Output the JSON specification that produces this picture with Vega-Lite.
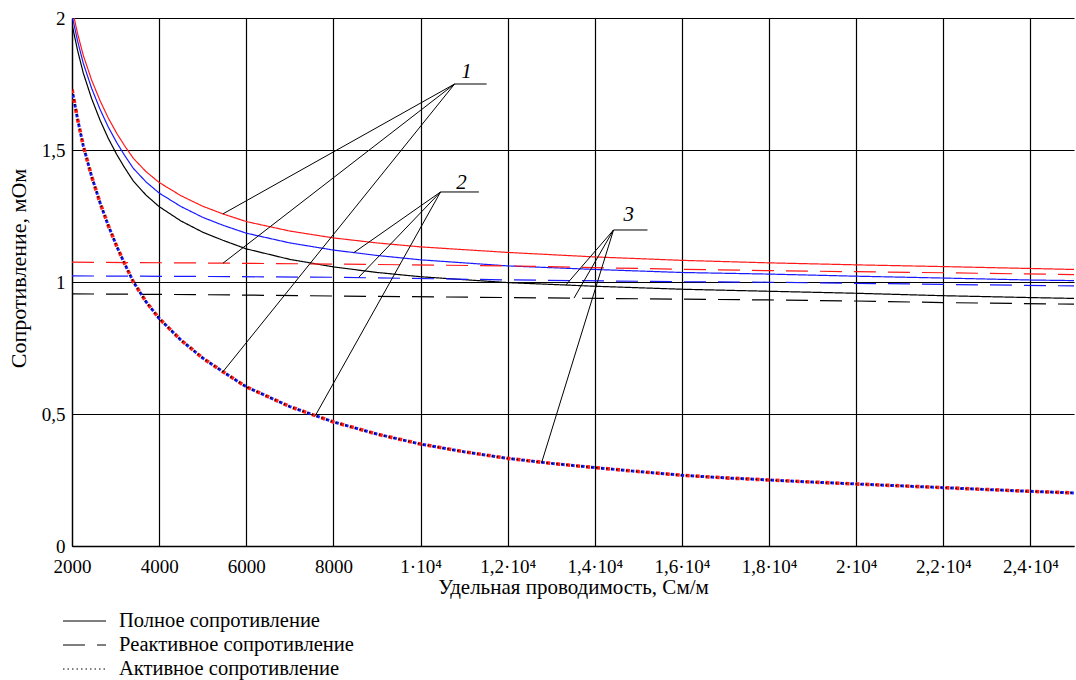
{
  "$schema": "https://vega.github.io/schema/vega-lite/v6.json",
  "width": 1002,
  "height": 528,
  "autosize": {"type": "none"},
  "padding": {"left": 72, "top": 18, "right": 2, "bottom": 134},
  "background": "white",
  "config": {
    "view": {"stroke": null},
    "font": "Liberation Serif",
    "axis": {
      "labelFont": "Liberation Serif", "labelFontSize": 19, "labelColor": "black",
      "titleFont": "Liberation Serif", "titleFontSize": 21, "titleFontWeight": "normal", "titleColor": "black",
      "domainColor": "black", "domainWidth": 1.3, "gridColor": "black", "gridWidth": 1.2, "gridOpacity": 1, "ticks": false
    }
  },
  "datasets": {
    "curves": [
      {"x": 2000, "v": 2.037, "c": "1", "t": "Полное сопротивление"},
      {"x": 2130, "v": 1.94, "c": "1", "t": "Полное сопротивление"},
      {"x": 2260, "v": 1.858, "c": "1", "t": "Полное сопротивление"},
      {"x": 2450, "v": 1.765, "c": "1", "t": "Полное сопротивление"},
      {"x": 2644, "v": 1.687, "c": "1", "t": "Полное сопротивление"},
      {"x": 2830, "v": 1.622, "c": "1", "t": "Полное сопротивление"},
      {"x": 3027, "v": 1.563, "c": "1", "t": "Полное сопротивление"},
      {"x": 3200, "v": 1.518, "c": "1", "t": "Полное сопротивление"},
      {"x": 3410, "v": 1.468, "c": "1", "t": "Полное сопротивление"},
      {"x": 3700, "v": 1.418, "c": "1", "t": "Полное сопротивление"},
      {"x": 4000, "v": 1.377, "c": "1", "t": "Полное сопротивление"},
      {"x": 4500, "v": 1.327, "c": "1", "t": "Полное сопротивление"},
      {"x": 5000, "v": 1.287, "c": "1", "t": "Полное сопротивление"},
      {"x": 5464, "v": 1.258, "c": "1", "t": "Полное сопротивление"},
      {"x": 6000, "v": 1.229, "c": "1", "t": "Полное сопротивление"},
      {"x": 7000, "v": 1.193, "c": "1", "t": "Полное сопротивление"},
      {"x": 8000, "v": 1.167, "c": "1", "t": "Полное сопротивление"},
      {"x": 9000, "v": 1.148, "c": "1", "t": "Полное сопротивление"},
      {"x": 10000, "v": 1.133, "c": "1", "t": "Полное сопротивление"},
      {"x": 12000, "v": 1.112, "c": "1", "t": "Полное сопротивление"},
      {"x": 14000, "v": 1.095, "c": "1", "t": "Полное сопротивление"},
      {"x": 16000, "v": 1.082, "c": "1", "t": "Полное сопротивление"},
      {"x": 18000, "v": 1.0725, "c": "1", "t": "Полное сопротивление"},
      {"x": 20000, "v": 1.065, "c": "1", "t": "Полное сопротивление"},
      {"x": 22000, "v": 1.0584, "c": "1", "t": "Полное сопротивление"},
      {"x": 24000, "v": 1.0512, "c": "1", "t": "Полное сопротивление"},
      {"x": 25000, "v": 1.0475, "c": "1", "t": "Полное сопротивление"},

      {"x": 2000, "v": 2.01, "c": "2", "t": "Полное сопротивление"},
      {"x": 2130, "v": 1.912, "c": "2", "t": "Полное сопротивление"},
      {"x": 2260, "v": 1.828, "c": "2", "t": "Полное сопротивление"},
      {"x": 2450, "v": 1.734, "c": "2", "t": "Полное сопротивление"},
      {"x": 2644, "v": 1.654, "c": "2", "t": "Полное сопротивление"},
      {"x": 2830, "v": 1.588, "c": "2", "t": "Полное сопротивление"},
      {"x": 3027, "v": 1.528, "c": "2", "t": "Полное сопротивление"},
      {"x": 3200, "v": 1.4815, "c": "2", "t": "Полное сопротивление"},
      {"x": 3410, "v": 1.43, "c": "2", "t": "Полное сопротивление"},
      {"x": 3700, "v": 1.379, "c": "2", "t": "Полное сопротивление"},
      {"x": 4000, "v": 1.337, "c": "2", "t": "Полное сопротивление"},
      {"x": 4500, "v": 1.286, "c": "2", "t": "Полное сопротивление"},
      {"x": 5000, "v": 1.245, "c": "2", "t": "Полное сопротивление"},
      {"x": 5464, "v": 1.215, "c": "2", "t": "Полное сопротивление"},
      {"x": 6000, "v": 1.185, "c": "2", "t": "Полное сопротивление"},
      {"x": 7000, "v": 1.148, "c": "2", "t": "Полное сопротивление"},
      {"x": 8000, "v": 1.121, "c": "2", "t": "Полное сопротивление"},
      {"x": 9000, "v": 1.1005, "c": "2", "t": "Полное сопротивление"},
      {"x": 10000, "v": 1.084, "c": "2", "t": "Полное сопротивление"},
      {"x": 12000, "v": 1.061, "c": "2", "t": "Полное сопротивление"},
      {"x": 14000, "v": 1.0475, "c": "2", "t": "Полное сопротивление"},
      {"x": 16000, "v": 1.036, "c": "2", "t": "Полное сопротивление"},
      {"x": 18000, "v": 1.03, "c": "2", "t": "Полное сопротивление"},
      {"x": 20000, "v": 1.022, "c": "2", "t": "Полное сопротивление"},
      {"x": 22000, "v": 1.015, "c": "2", "t": "Полное сопротивление"},
      {"x": 24000, "v": 1.0075, "c": "2", "t": "Полное сопротивление"},
      {"x": 25000, "v": 1.0053, "c": "2", "t": "Полное сопротивление"},

      {"x": 2000, "v": 1.976, "c": "3", "t": "Полное сопротивление"},
      {"x": 2130, "v": 1.876, "c": "3", "t": "Полное сопротивление"},
      {"x": 2260, "v": 1.791, "c": "3", "t": "Полное сопротивление"},
      {"x": 2450, "v": 1.695, "c": "3", "t": "Полное сопротивление"},
      {"x": 2644, "v": 1.613, "c": "3", "t": "Полное сопротивление"},
      {"x": 2830, "v": 1.545, "c": "3", "t": "Полное сопротивление"},
      {"x": 3027, "v": 1.483, "c": "3", "t": "Полное сопротивление"},
      {"x": 3200, "v": 1.435, "c": "3", "t": "Полное сопротивление"},
      {"x": 3410, "v": 1.382, "c": "3", "t": "Полное сопротивление"},
      {"x": 3700, "v": 1.329, "c": "3", "t": "Полное сопротивление"},
      {"x": 4000, "v": 1.2856, "c": "3", "t": "Полное сопротивление"},
      {"x": 4500, "v": 1.2313, "c": "3", "t": "Полное сопротивление"},
      {"x": 5000, "v": 1.1888, "c": "3", "t": "Полное сопротивление"},
      {"x": 5464, "v": 1.158, "c": "3", "t": "Полное сопротивление"},
      {"x": 6000, "v": 1.1255, "c": "3", "t": "Полное сопротивление"},
      {"x": 7000, "v": 1.0857, "c": "3", "t": "Полное сопротивление"},
      {"x": 8000, "v": 1.0572, "c": "3", "t": "Полное сопротивление"},
      {"x": 9000, "v": 1.0362, "c": "3", "t": "Полное сопротивление"},
      {"x": 10000, "v": 1.0199, "c": "3", "t": "Полное сопротивление"},
      {"x": 12000, "v": 0.9978, "c": "3", "t": "Полное сопротивление"},
      {"x": 14000, "v": 0.9839, "c": "3", "t": "Полное сопротивление"},
      {"x": 16000, "v": 0.9726, "c": "3", "t": "Полное сопротивление"},
      {"x": 18000, "v": 0.9649, "c": "3", "t": "Полное сопротивление"},
      {"x": 20000, "v": 0.9573, "c": "3", "t": "Полное сопротивление"},
      {"x": 22000, "v": 0.9481, "c": "3", "t": "Полное сопротивление"},
      {"x": 24000, "v": 0.941, "c": "3", "t": "Полное сопротивление"},
      {"x": 25000, "v": 0.9378, "c": "3", "t": "Полное сопротивление"},

      {"x": 2000, "v": 1.075, "c": "1", "t": "Реактивное сопротивление"},
      {"x": 5000, "v": 1.072, "c": "1", "t": "Реактивное сопротивление"},
      {"x": 8000, "v": 1.068, "c": "1", "t": "Реактивное сопротивление"},
      {"x": 12000, "v": 1.061, "c": "1", "t": "Реактивное сопротивление"},
      {"x": 16000, "v": 1.048, "c": "1", "t": "Реактивное сопротивление"},
      {"x": 18000, "v": 1.043, "c": "1", "t": "Реактивное сопротивление"},
      {"x": 20000, "v": 1.039, "c": "1", "t": "Реактивное сопротивление"},
      {"x": 22000, "v": 1.035, "c": "1", "t": "Реактивное сопротивление"},
      {"x": 25000, "v": 1.028, "c": "1", "t": "Реактивное сопротивление"},
      {"x": 2000, "v": 1.023, "c": "2", "t": "Реактивное сопротивление"},
      {"x": 5000, "v": 1.021, "c": "2", "t": "Реактивное сопротивление"},
      {"x": 8000, "v": 1.018, "c": "2", "t": "Реактивное сопротивление"},
      {"x": 12000, "v": 1.008, "c": "2", "t": "Реактивное сопротивление"},
      {"x": 16000, "v": 1.001, "c": "2", "t": "Реактивное сопротивление"},
      {"x": 18000, "v": 0.999, "c": "2", "t": "Реактивное сопротивление"},
      {"x": 20000, "v": 0.995, "c": "2", "t": "Реактивное сопротивление"},
      {"x": 22000, "v": 0.991, "c": "2", "t": "Реактивное сопротивление"},
      {"x": 25000, "v": 0.985, "c": "2", "t": "Реактивное сопротивление"},
      {"x": 2000, "v": 0.955, "c": "3", "t": "Реактивное сопротивление"},
      {"x": 5000, "v": 0.952, "c": "3", "t": "Реактивное сопротивление"},
      {"x": 8000, "v": 0.947, "c": "3", "t": "Реактивное сопротивление"},
      {"x": 12000, "v": 0.941, "c": "3", "t": "Реактивное сопротивление"},
      {"x": 16000, "v": 0.935, "c": "3", "t": "Реактивное сопротивление"},
      {"x": 18000, "v": 0.932, "c": "3", "t": "Реактивное сопротивление"},
      {"x": 20000, "v": 0.928, "c": "3", "t": "Реактивное сопротивление"},
      {"x": 22000, "v": 0.922, "c": "3", "t": "Реактивное сопротивление"},
      {"x": 25000, "v": 0.916, "c": "3", "t": "Реактивное сопротивление"},

      {"x": 2000, "v": 1.73, "c": "1", "t": "Активное сопротивление"},
      {"x": 2130, "v": 1.615, "c": "1", "t": "Активное сопротивление"},
      {"x": 2260, "v": 1.515, "c": "1", "t": "Активное сопротивление"},
      {"x": 2450, "v": 1.4, "c": "1", "t": "Активное сопротивление"},
      {"x": 2644, "v": 1.3, "c": "1", "t": "Активное сопротивление"},
      {"x": 2830, "v": 1.215, "c": "1", "t": "Активное сопротивление"},
      {"x": 3027, "v": 1.135, "c": "1", "t": "Активное сопротивление"},
      {"x": 3200, "v": 1.072, "c": "1", "t": "Активное сопротивление"},
      {"x": 3410, "v": 1.0, "c": "1", "t": "Активное сопротивление"},
      {"x": 3700, "v": 0.925, "c": "1", "t": "Активное сопротивление"},
      {"x": 4000, "v": 0.862, "c": "1", "t": "Активное сопротивление"},
      {"x": 4500, "v": 0.78, "c": "1", "t": "Активное сопротивление"},
      {"x": 5000, "v": 0.712, "c": "1", "t": "Активное сопротивление"},
      {"x": 5464, "v": 0.66, "c": "1", "t": "Активное сопротивление"},
      {"x": 6000, "v": 0.603, "c": "1", "t": "Активное сопротивление"},
      {"x": 7000, "v": 0.528, "c": "1", "t": "Активное сопротивление"},
      {"x": 7586, "v": 0.494, "c": "1", "t": "Активное сопротивление"},
      {"x": 8000, "v": 0.47, "c": "1", "t": "Активное сопротивление"},
      {"x": 9000, "v": 0.424, "c": "1", "t": "Активное сопротивление"},
      {"x": 10000, "v": 0.386, "c": "1", "t": "Активное сопротивление"},
      {"x": 11000, "v": 0.357, "c": "1", "t": "Активное сопротивление"},
      {"x": 12000, "v": 0.332, "c": "1", "t": "Активное сопротивление"},
      {"x": 13000, "v": 0.313, "c": "1", "t": "Активное сопротивление"},
      {"x": 14000, "v": 0.297, "c": "1", "t": "Активное сопротивление"},
      {"x": 15000, "v": 0.282, "c": "1", "t": "Активное сопротивление"},
      {"x": 16000, "v": 0.268, "c": "1", "t": "Активное сопротивление"},
      {"x": 17000, "v": 0.258, "c": "1", "t": "Активное сопротивление"},
      {"x": 18000, "v": 0.25, "c": "1", "t": "Активное сопротивление"},
      {"x": 19000, "v": 0.242, "c": "1", "t": "Активное сопротивление"},
      {"x": 20000, "v": 0.235, "c": "1", "t": "Активное сопротивление"},
      {"x": 21000, "v": 0.228, "c": "1", "t": "Активное сопротивление"},
      {"x": 22000, "v": 0.221, "c": "1", "t": "Активное сопротивление"},
      {"x": 23000, "v": 0.214, "c": "1", "t": "Активное сопротивление"},
      {"x": 24000, "v": 0.207, "c": "1", "t": "Активное сопротивление"},
      {"x": 25000, "v": 0.201, "c": "1", "t": "Активное сопротивление"},

      {"x": 2000, "v": 1.73, "c": "2", "t": "Активное сопротивление"},
      {"x": 2130, "v": 1.615, "c": "2", "t": "Активное сопротивление"},
      {"x": 2260, "v": 1.515, "c": "2", "t": "Активное сопротивление"},
      {"x": 2450, "v": 1.4, "c": "2", "t": "Активное сопротивление"},
      {"x": 2644, "v": 1.3, "c": "2", "t": "Активное сопротивление"},
      {"x": 2830, "v": 1.215, "c": "2", "t": "Активное сопротивление"},
      {"x": 3027, "v": 1.135, "c": "2", "t": "Активное сопротивление"},
      {"x": 3200, "v": 1.072, "c": "2", "t": "Активное сопротивление"},
      {"x": 3410, "v": 1.0, "c": "2", "t": "Активное сопротивление"},
      {"x": 3700, "v": 0.925, "c": "2", "t": "Активное сопротивление"},
      {"x": 4000, "v": 0.862, "c": "2", "t": "Активное сопротивление"},
      {"x": 4500, "v": 0.78, "c": "2", "t": "Активное сопротивление"},
      {"x": 5000, "v": 0.712, "c": "2", "t": "Активное сопротивление"},
      {"x": 5464, "v": 0.66, "c": "2", "t": "Активное сопротивление"},
      {"x": 6000, "v": 0.603, "c": "2", "t": "Активное сопротивление"},
      {"x": 7000, "v": 0.528, "c": "2", "t": "Активное сопротивление"},
      {"x": 7586, "v": 0.494, "c": "2", "t": "Активное сопротивление"},
      {"x": 8000, "v": 0.47, "c": "2", "t": "Активное сопротивление"},
      {"x": 9000, "v": 0.424, "c": "2", "t": "Активное сопротивление"},
      {"x": 10000, "v": 0.386, "c": "2", "t": "Активное сопротивление"},
      {"x": 11000, "v": 0.357, "c": "2", "t": "Активное сопротивление"},
      {"x": 12000, "v": 0.332, "c": "2", "t": "Активное сопротивление"},
      {"x": 13000, "v": 0.313, "c": "2", "t": "Активное сопротивление"},
      {"x": 14000, "v": 0.297, "c": "2", "t": "Активное сопротивление"},
      {"x": 15000, "v": 0.282, "c": "2", "t": "Активное сопротивление"},
      {"x": 16000, "v": 0.268, "c": "2", "t": "Активное сопротивление"},
      {"x": 17000, "v": 0.258, "c": "2", "t": "Активное сопротивление"},
      {"x": 18000, "v": 0.25, "c": "2", "t": "Активное сопротивление"},
      {"x": 19000, "v": 0.242, "c": "2", "t": "Активное сопротивление"},
      {"x": 20000, "v": 0.235, "c": "2", "t": "Активное сопротивление"},
      {"x": 21000, "v": 0.228, "c": "2", "t": "Активное сопротивление"},
      {"x": 22000, "v": 0.221, "c": "2", "t": "Активное сопротивление"},
      {"x": 23000, "v": 0.214, "c": "2", "t": "Активное сопротивление"},
      {"x": 24000, "v": 0.207, "c": "2", "t": "Активное сопротивление"},
      {"x": 25000, "v": 0.201, "c": "2", "t": "Активное сопротивление"},

      {"x": 2000, "v": 1.73, "c": "3", "t": "Активное сопротивление"},
      {"x": 2130, "v": 1.615, "c": "3", "t": "Активное сопротивление"},
      {"x": 2260, "v": 1.515, "c": "3", "t": "Активное сопротивление"},
      {"x": 2450, "v": 1.4, "c": "3", "t": "Активное сопротивление"},
      {"x": 2644, "v": 1.3, "c": "3", "t": "Активное сопротивление"},
      {"x": 2830, "v": 1.215, "c": "3", "t": "Активное сопротивление"},
      {"x": 3027, "v": 1.135, "c": "3", "t": "Активное сопротивление"},
      {"x": 3200, "v": 1.072, "c": "3", "t": "Активное сопротивление"},
      {"x": 3410, "v": 1.0, "c": "3", "t": "Активное сопротивление"},
      {"x": 3700, "v": 0.925, "c": "3", "t": "Активное сопротивление"},
      {"x": 4000, "v": 0.862, "c": "3", "t": "Активное сопротивление"},
      {"x": 4500, "v": 0.78, "c": "3", "t": "Активное сопротивление"},
      {"x": 5000, "v": 0.712, "c": "3", "t": "Активное сопротивление"},
      {"x": 5464, "v": 0.66, "c": "3", "t": "Активное сопротивление"},
      {"x": 6000, "v": 0.603, "c": "3", "t": "Активное сопротивление"},
      {"x": 7000, "v": 0.528, "c": "3", "t": "Активное сопротивление"},
      {"x": 7586, "v": 0.494, "c": "3", "t": "Активное сопротивление"},
      {"x": 8000, "v": 0.47, "c": "3", "t": "Активное сопротивление"},
      {"x": 9000, "v": 0.424, "c": "3", "t": "Активное сопротивление"},
      {"x": 10000, "v": 0.386, "c": "3", "t": "Активное сопротивление"},
      {"x": 11000, "v": 0.357, "c": "3", "t": "Активное сопротивление"},
      {"x": 12000, "v": 0.332, "c": "3", "t": "Активное сопротивление"},
      {"x": 13000, "v": 0.313, "c": "3", "t": "Активное сопротивление"},
      {"x": 14000, "v": 0.297, "c": "3", "t": "Активное сопротивление"},
      {"x": 15000, "v": 0.282, "c": "3", "t": "Активное сопротивление"},
      {"x": 16000, "v": 0.268, "c": "3", "t": "Активное сопротивление"},
      {"x": 17000, "v": 0.258, "c": "3", "t": "Активное сопротивление"},
      {"x": 18000, "v": 0.25, "c": "3", "t": "Активное сопротивление"},
      {"x": 19000, "v": 0.242, "c": "3", "t": "Активное сопротивление"},
      {"x": 20000, "v": 0.235, "c": "3", "t": "Активное сопротивление"},
      {"x": 21000, "v": 0.228, "c": "3", "t": "Активное сопротивление"},
      {"x": 22000, "v": 0.221, "c": "3", "t": "Активное сопротивление"},
      {"x": 23000, "v": 0.214, "c": "3", "t": "Активное сопротивление"},
      {"x": 24000, "v": 0.207, "c": "3", "t": "Активное сопротивление"},
      {"x": 25000, "v": 0.201, "c": "3", "t": "Активное сопротивление"}
    ],
    "leaders": [
      {"x": 10782, "v": 1.75, "x2": 11517, "v2": 1.75},
      {"x": 10782, "v": 1.75, "x2": 5464, "v2": 1.258},
      {"x": 10782, "v": 1.75, "x2": 5464, "v2": 1.071},
      {"x": 10782, "v": 1.75, "x2": 5464, "v2": 0.66},
      {"x": 10460, "v": 1.341, "x2": 11340, "v2": 1.341},
      {"x": 10460, "v": 1.341, "x2": 8467, "v2": 1.111},
      {"x": 10460, "v": 1.341, "x2": 8582, "v2": 1.018},
      {"x": 10460, "v": 1.341, "x2": 7586, "v2": 0.494},
      {"x": 14430, "v": 1.197, "x2": 15210, "v2": 1.197},
      {"x": 14430, "v": 1.197, "x2": 13333, "v2": 0.988},
      {"x": 14430, "v": 1.197, "x2": 13524, "v2": 0.939},
      {"x": 14430, "v": 1.197, "x2": 12782, "v2": 0.317}
    ],
    "labels": [
      {"x": 11057, "v": 1.795, "label": "1"},
      {"x": 10943, "v": 1.375, "label": "2"},
      {"x": 14782, "v": 1.254, "label": "3"}
    ]
  },
  "data": {"name": "curves"},
  "encoding": {
    "x": {
      "field": "x", "type": "quantitative",
      "scale": {"domain": [2000, 25000], "nice": false, "zero": false},
      "axis": {
        "values": [2000, 4000, 6000, 8000, 10000, 12000, 14000, 16000, 18000, 20000, 22000, 24000],
        "grid": true, "labelPadding": 11, "labelDx": -5, "labelFlush": false, "labelOverlap": false,
        "labelExpr": "datum.value < 10000 ? toString(datum.value) : replace(toString(datum.value / 10000), '.', ',') + '·10⁴'",
        "title": "Удельная проводимость, См/м", "titlePadding": 0
      }
    },
    "y": {
      "field": "v", "type": "quantitative",
      "scale": {"domain": [0, 2], "nice": false},
      "axis": {
        "values": [0, 0.5, 1, 1.5, 2], "grid": true, "labelPadding": 7, "labelFlush": false, "labelOverlap": false,
        "labelExpr": "replace(toString(datum.value), '.', ',')",
        "title": "Сопротивление, мОм", "titleFontSize": 22, "titlePadding": 11, "titleY": 250
      }
    }
  },
  "layer": [
    {
      "transform": [{"filter": "datum.t != 'Активное сопротивление'"}],
      "mark": {"type": "line", "strokeWidth": 1.2, "strokeCap": "butt", "clip": true},
      "encoding": {
        "color": {"field": "c", "type": "nominal", "scale": {"domain": ["1", "2", "3"], "range": ["#ff1a1a", "#1a1aff", "#000000"]}, "legend": null},
        "strokeDash": {
          "field": "t", "type": "nominal",
          "scale": {"domain": ["Полное сопротивление", "Реактивное сопротивление", "Активное сопротивление"], "range": [[1, 0], [22, 12], [1.5, 3]]},
          "legend": {
            "orient": "none", "legendX": -10, "legendY": 591, "title": null, "padding": 0,
            "symbolType": "stroke", "symbolSize": 1849, "symbolStrokeColor": "black", "symbolStrokeWidth": 1.2,
            "labelFont": "Liberation Serif", "labelFontSize": 20.5, "labelColor": "black", "labelOffset": 12,
            "clipHeight": 24, "rowPadding": 0, "labelLimit": 400
          }
        }
      }
    },
    {
      "transform": [{"filter": "datum.t == 'Активное сопротивление' && datum.c == '1'"}],
      "mark": {"type": "line", "color": "#ff1a1a", "strokeWidth": 3.6, "strokeDash": [4, 6], "strokeCap": "butt", "clip": true},
      "encoding": {}
    },
    {
      "transform": [{"filter": "datum.t == 'Активное сопротивление' && datum.c == '2'"}],
      "mark": {"type": "line", "color": "#1a1aff", "strokeWidth": 3, "strokeDash": [3.5, 6.5], "strokeDashOffset": 5, "strokeCap": "butt", "clip": true},
      "encoding": {}
    },
    {
      "transform": [{"filter": "datum.t == 'Активное сопротивление' && datum.c == '3'"}],
      "mark": {"type": "line", "color": "#000000", "strokeWidth": 1.5, "strokeDash": [1.5, 3.5], "strokeCap": "butt", "clip": true},
      "encoding": {}
    },
    {
      "data": {"name": "leaders"},
      "mark": {"type": "rule", "color": "black", "strokeWidth": 1},
      "encoding": {
        "x2": {"field": "x2"},
        "y2": {"field": "v2"}
      }
    },
    {
      "data": {"name": "labels"},
      "mark": {"type": "text", "font": "Liberation Serif", "fontSize": 21, "fontStyle": "italic", "color": "black", "baseline": "middle", "align": "center"},
      "encoding": {
        "text": {"field": "label"}
      }
    }
  ]
}
